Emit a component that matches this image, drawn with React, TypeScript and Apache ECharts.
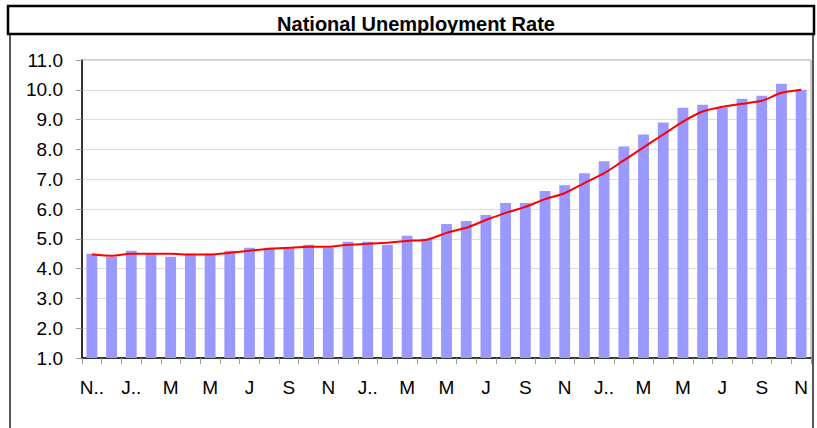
import React, { useEffect, useRef } from "react";
import * as echarts from "echarts";

const monthLabels = [
  "N..", "D", "J..", "F", "M", "A", "M", "J", "J", "A", "S", "O",
  "N", "D", "J..", "F", "M", "A", "M", "J", "J", "A", "S", "O",
  "N", "D", "J..", "F", "M", "A", "M", "J", "J", "A", "S", "O", "N",
];

const unemploymentRate = [
  4.5, 4.4, 4.6, 4.5, 4.4, 4.5, 4.5, 4.6, 4.7, 4.7, 4.7, 4.8,
  4.7, 4.9, 4.9, 4.8, 5.1, 5.0, 5.5, 5.6, 5.8, 6.2, 6.2, 6.6,
  6.8, 7.2, 7.6, 8.1, 8.5, 8.9, 9.4, 9.5, 9.4, 9.7, 9.8, 10.2, 10.0,
];

const trendLine = [
  4.47, 4.43, 4.5, 4.5, 4.5, 4.47, 4.47, 4.53, 4.6, 4.67, 4.7, 4.73,
  4.73, 4.8, 4.83, 4.87, 4.93, 4.97, 5.2, 5.37, 5.63, 5.87, 6.07, 6.33,
  6.53, 6.87, 7.2, 7.63, 8.07, 8.5, 8.93, 9.27, 9.43, 9.53, 9.63, 9.9, 10.0,
];

const chartTitle = "National Unemployment Rate";

export default function App() {
  const ref = useRef<HTMLDivElement>(null);

  useEffect(() => {
    document.body.style.margin = "0";
    const chart = echarts.init(ref.current!, null, { renderer: "svg" });
    const font = "Arial, 'Liberation Sans', Helvetica, sans-serif";
    chart.setOption({
      animation: false,
      backgroundColor: "#ffffff",
      title: {
        text: chartTitle,
        left: 411,
        textAlign: "center",
        top: 9,
        textStyle: {
          fontFamily: font,
          fontSize: 20,
          fontWeight: "bold",
          color: "#000000",
        },
      },
      graphic: [
        {
          type: "rect",
          z: 100,
          shape: { x: 10, y: 34, width: 803, height: 420 },
          style: { fill: "none", stroke: "#222222", lineWidth: 1.5 },
          silent: true,
        },
        {
          type: "rect",
          z: 101,
          shape: { x: 8, y: 6, width: 806, height: 28 },
          style: { fill: "none", stroke: "#000000", lineWidth: 2.5 },
          silent: true,
        },
      ],
      grid: {
        left: 82,
        top: 60,
        width: 729,
        height: 298,
        show: true,
        borderColor: "#999999",
        borderWidth: 1,
        backgroundColor: "transparent",
      },
      xAxis: {
        type: "category",
        data: monthLabels,
        boundaryGap: true,
        axisLine: { show: true, lineStyle: { color: "#000000", width: 1.5 } },
        axisTick: {
          show: true,
          interval: 0,
          alignWithLabel: false,
          length: 6,
          lineStyle: { color: "#999999" },
        },
        axisLabel: {
          interval: 1,
          margin: 20,
          color: "#000000",
          fontFamily: font,
          fontSize: 19,
        },
        splitLine: { show: false },
      },
      yAxis: {
        type: "value",
        min: 1,
        max: 11,
        interval: 1,
        axisLine: { show: true, lineStyle: { color: "#000000", width: 1.5 } },
        axisTick: { show: true, length: 6, lineStyle: { color: "#999999" } },
        axisLabel: {
          margin: 19,
          color: "#000000",
          fontFamily: font,
          fontSize: 19,
          formatter: (v: number) => v.toFixed(1),
        },
        splitLine: { show: true, lineStyle: { color: "#DDDDDD", width: 1 } },
      },
      series: [
        {
          type: "bar",
          data: unemploymentRate,
          barWidth: "55%",
          itemStyle: { color: "#9999FF" },
        },
        {
          type: "line",
          data: trendLine,
          showSymbol: false,
          smooth: 0.2,
          lineStyle: { color: "#FF0000", width: 2 },
          z: 5,
        },
      ],
    });
    return () => chart.dispose();
  }, []);

  return (
    <div
      ref={ref}
      style={{ position: "absolute", left: 0, top: 0, width: 817, height: 428 }}
    />
  );
}
